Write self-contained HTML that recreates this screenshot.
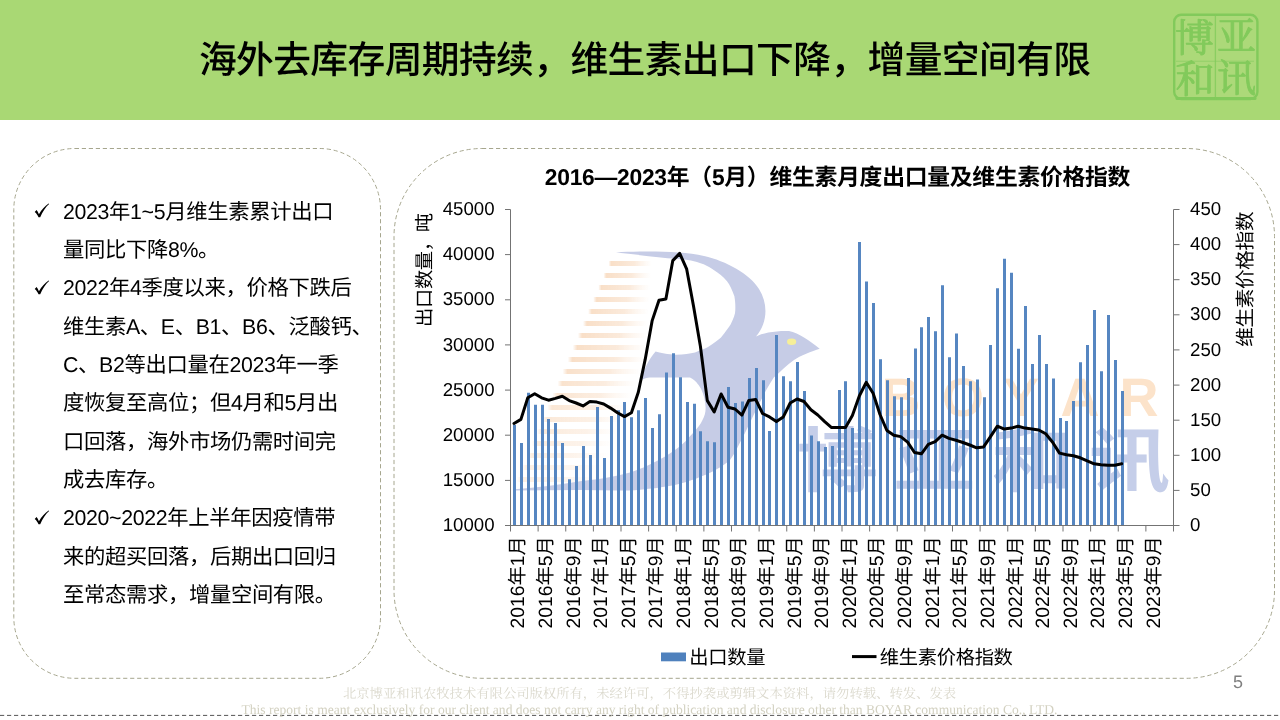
<!DOCTYPE html>
<html lang="zh-CN"><head><meta charset="utf-8"><title>海外去库存周期持续，维生素出口下降，增量空间有限</title><style>
html,body{margin:0;padding:0}
body{width:1280px;height:720px;position:relative;overflow:hidden;background:#fff;font-family:"Liberation Sans","Noto Sans CJK SC",sans-serif;color:#000;text-rendering:geometricPrecision}
.hdr{position:absolute;left:0;top:0;width:1280px;height:120px;background:#a9d874}
.ln{position:absolute;white-space:nowrap;line-height:1;margin:0}
.ttl{left:4.7px;width:1280px;text-align:center;font-size:37.75px;top:41.5px;font-weight:500;letter-spacing:-.016em}
.bl{font-size:21.33px;left:63.0px;letter-spacing:-.016em}
.slide{position:absolute;left:0;top:0;width:1280px;height:720px;will-change:transform}
.ov{position:absolute;left:0;top:0}
.ft{position:absolute;left:9.5px;width:1280px;text-align:center;white-space:nowrap;line-height:1;color:#dbd9cd;font-size:13.33px}
.ft.cn{font-family:"Liberation Serif","Noto Serif CJK SC",serif}
.ft.en{font-family:"Liberation Serif",serif;font-size:13.55px;color:#d3d1c1}
.pg{position:absolute;left:1233px;top:673px;font-size:18px;line-height:1;color:#7f7f7f}
text{font-family:"Liberation Sans","Noto Sans CJK SC",sans-serif;text-rendering:geometricPrecision}
</style></head><body>
<main class="slide">
<div class="hdr"></div>
<h1 class="ln ttl" aria-label="海外去库存周期持续，维生素出口下降，增量空间有限">海外去库存周期持续，维生素出口下降，增量空间有限</h1>
<svg class="ov" width="1280" height="130" viewBox="0 0 1280 130" role="img" aria-label="博亚和讯"><g fill="#82ca5b" stroke="#82ca5b" stroke-linejoin="round"><rect x="1174.2" y="14.8" width="83.2" height="84.2" rx="7" fill="#fff" fill-opacity=".04" stroke-width="2.4"/><path d="M1177 98.4h78" stroke-width="3" stroke-linecap="round"/><path d="M1215.4 14v86" stroke-width="1.3" stroke-opacity=".8"/><path d="M1176 61.2h78" stroke-width="1.1" stroke-opacity=".6"/><text x="1175.0" y="52.0" font-size="39" stroke-width="0.9" style="font-family:'Liberation Serif','Noto Serif CJK SC',serif">博</text><text x="1217.0" y="49.5" font-size="39" stroke-width="0.9" style="font-family:'Liberation Serif','Noto Serif CJK SC',serif">亚</text><text x="1175.5" y="93.0" font-size="39" stroke-width="0.9" style="font-family:'Liberation Serif','Noto Serif CJK SC',serif">和</text><text x="1217.0" y="92.0" font-size="39" stroke-width="0.9" style="font-family:'Liberation Serif','Noto Serif CJK SC',serif">讯</text></g></svg>
<svg class="ov" width="1280" height="720" viewBox="0 0 1280 720" aria-hidden="true" fill="none" stroke="#a6a68e" stroke-width="1" stroke-dasharray="4.2 2.8"><rect x="13.8" y="148.5" width="366.7" height="529.8" rx="61"/><rect x="394" y="148.5" width="880.5" height="529.8" rx="88"/><path d="M0 715.4H1280" stroke="#555" stroke-width="1" stroke-dasharray="4.2 2.8"/></svg>
<p class="ln bl" style="top:201.64px" aria-label="2023年1~5月维生素累计出口"><svg style="position:absolute;left:-29px;top:1.2px" width="16" height="15" viewBox="0 0 16 15"><path d="M.7 8.9 2.6 7.1C3.6 8.3 4.3 9.6 4.9 11.2 7.6 6.6 10.6 3.1 14.6.4l.5.7C11.600 4.300 8.600 8.600 6.200 14.300H4.5C3.700 12.200 2.400 10.200.7 8.900Z" fill="#000"/></svg>2023年1~5月维生素累计出口</p>
<p class="ln bl" style="top:239.98px" aria-label="量同比下降8%。">量同比下降8%。</p>
<p class="ln bl" style="top:278.32px" aria-label="2022年4季度以来，价格下跌后"><svg style="position:absolute;left:-29px;top:1.2px" width="16" height="15" viewBox="0 0 16 15"><path d="M.7 8.9 2.6 7.1C3.6 8.3 4.3 9.6 4.9 11.2 7.6 6.6 10.6 3.1 14.6.4l.5.7C11.600 4.300 8.600 8.600 6.200 14.300H4.5C3.700 12.200 2.400 10.200.7 8.900Z" fill="#000"/></svg>2022年4季度以来，价格下跌后</p>
<p class="ln bl" style="top:316.66px" aria-label="维生素A、E、B1、B6、泛酸钙、">维生素A、E、B1、B6、泛酸钙、</p>
<p class="ln bl" style="top:355.00px" aria-label="C、B2等出口量在2023年一季">C、B2等出口量在2023年一季</p>
<p class="ln bl" style="top:393.34px" aria-label="度恢复至高位；但4月和5月出">度恢复至高位；但4月和5月出</p>
<p class="ln bl" style="top:431.68px" aria-label="口回落，海外市场仍需时间完">口回落，海外市场仍需时间完</p>
<p class="ln bl" style="top:470.02px" aria-label="成去库存。">成去库存。</p>
<p class="ln bl" style="top:508.36px" aria-label="2020~2022年上半年因疫情带"><svg style="position:absolute;left:-29px;top:1.2px" width="16" height="15" viewBox="0 0 16 15"><path d="M.7 8.9 2.6 7.1C3.6 8.3 4.3 9.6 4.9 11.2 7.6 6.6 10.6 3.1 14.6.4l.5.7C11.600 4.300 8.600 8.600 6.200 14.300H4.5C3.700 12.200 2.400 10.200.7 8.900Z" fill="#000"/></svg>2020~2022年上半年因疫情带</p>
<p class="ln bl" style="top:546.70px" aria-label="来的超买回落，后期出口回归">来的超买回落，后期出口回归</p>
<p class="ln bl" style="top:585.04px" aria-label="至常态需求，增量空间有限。">至常态需求，增量空间有限。</p>
<div class="ft cn" style="top:686.8px" aria-label="北京博亚和讯农牧技术有限公司版权所有，未经许可，不得抄袭或剪辑文本资料，请勿转载、转发、发表">北京博亚和讯农牧技术有限公司版权所有，未经许可，不得抄袭或剪辑文本资料，请勿转载、转发、发表</div>
<div class="ft en" style="top:703px">This report is meant exclusively for our client and does not carry any right of publication and disclosure other than BOYAR communication Co., LTD.</div>
<div class="pg">5</div>
<svg class="ov" width="1280" height="720" viewBox="0 0 1280 720" role="img" aria-label="2016—2023年（5月）维生素月度出口量及维生素价格指数"><g><defs><linearGradient id="og" x1="0" x2="1" y1="0" y2="0"><stop offset="0" stop-color="#f7d6b8" stop-opacity="0"/><stop offset=".06" stop-color="#f7d6b8" stop-opacity=".78"/><stop offset=".6" stop-color="#f8dcc3" stop-opacity=".6"/><stop offset="1" stop-color="#fbe9d8" stop-opacity="0"/></linearGradient></defs><filter id="sb" x="-5%" y="-50%" width="110%" height="200%"><feGaussianBlur stdDeviation=".6"/></filter><g filter="url(#sb)"><rect x="608.5" y="261.0" width="43.5" height="5" fill="url(#og)" opacity="1.00"/><rect x="603.4" y="273.0" width="47.7" height="5" fill="url(#og)" opacity="1.00"/><rect x="598.3" y="285.0" width="52.0" height="5" fill="url(#og)" opacity="1.00"/><rect x="593.2" y="297.0" width="56.3" height="5" fill="url(#og)" opacity="1.00"/><rect x="588.1" y="309.0" width="60.6" height="5" fill="url(#og)" opacity="1.00"/><rect x="583.0" y="321.0" width="64.9" height="5" fill="url(#og)" opacity="1.00"/><rect x="577.9" y="333.0" width="69.2" height="5" fill="url(#og)" opacity="1.00"/><rect x="572.8" y="345.0" width="73.5" height="5" fill="url(#og)" opacity="1.00"/><rect x="567.7" y="357.0" width="77.8" height="5" fill="url(#og)" opacity="1.00"/><rect x="562.6" y="369.0" width="78.3" height="5" fill="url(#og)" opacity="0.94"/><rect x="557.5" y="381.0" width="78.9" height="5" fill="url(#og)" opacity="0.88"/><rect x="552.4" y="393.0" width="79.4" height="5" fill="url(#og)" opacity="0.82"/><rect x="547.3" y="405.0" width="80.0" height="5" fill="url(#og)" opacity="0.76"/><rect x="542.2" y="417.0" width="80.5" height="5" fill="url(#og)" opacity="0.70"/><rect x="537.1" y="429.0" width="81.1" height="5" fill="url(#og)" opacity="0.64"/><rect x="532.0" y="441.0" width="81.6" height="5" fill="url(#og)" opacity="0.58"/><rect x="526.9" y="453.0" width="82.2" height="5" fill="url(#og)" opacity="0.52"/><rect x="521.8" y="465.0" width="82.7" height="5" fill="url(#og)" opacity="0.46"/><rect x="516.7" y="477.0" width="83.3" height="5" fill="url(#og)" opacity="0.45"/></g><path fill="#c6cce6" d="M616 252.500C640 251 680 250.500 704 256C726 261 750 274 759 289C768.500 304 767.500 323 756 336.500C762 333 776 330.500 789 331C799 333 810 341 819.700 348.750C812 351 800 356 794 360C787 365 780 372 773.750 377.500C769 385 766 390 763.750 395C759 404 755 412 751.250 420C747 429 743 437 738.750 445C736 451 733 456 730 460C726 463.500 722 466.500 717.500 468.750C713 471.500 709 473.500 705 475C699 477.500 693 480 686.250 481.900C680 483.800 674 485.200 667.500 486.250C659 487.800 651 488.800 642.500 489.400C634 490.300 626 490.600 617.500 490.600L580 490L515 490.400V489.200C537 487.700 559 485 580 481.250C588 480.300 597 479.200 605 478C614 476.300 622 474.600 630 472.500C636.500 470.300 643 467.800 648.750 465C655 462 661.500 458.700 667.500 455C672 452.200 676.200 449.400 680 446.250C683.700 443.100 687 439.800 690 436.250C693.300 433 696.200 429.700 698.750 426.250C700.300 424.300 701.500 422.200 702.500 420C704.600 416 705.800 412 705.600 407.500C705.400 401 703.800 394.500 701 388.750C698.500 384 694.800 380 690 377.500L650 377.500C647 377.600 644 378.500 641.500 380C643 371 649 359 655.600 351.600C660 353 668 354.500 676 354.750C684 354.500 690 353.500 695 352.500C701 350 705 348.500 708 347C714 343 718 340 721 337.500C726 331 729 327 730.600 324.400C734 318 735.500 313 735.300 309.400C735.500 304 735 300 734.400 296.250C732 290 730 285 727 281.250C723 276 718 273 713.750 270C707 265 700 263 695 261.600C690 260 683 259.500 676 258.750C660 257.500 640 255 616 252.500Z"/><ellipse cx="791.6" cy="341.7" rx="4.6" ry="3.2" fill="#f6ef98"/><g font-size="54" font-weight="bold" text-anchor="middle" fill="#fce3ca"><text x="901" y="416">B</text><text x="963" y="416">O</text><text x="1021" y="416">Y</text><text x="1080" y="416">A</text><text x="1139" y="416">R</text></g><g fill="#c5cee9" font-size="70.5" font-weight="bold"><text transform="translate(797,486) scale(1.149,1)">博</text><text transform="translate(894,486) scale(1.149,1)">亚</text><text transform="translate(992,486) scale(1.149,1)">和</text><text transform="translate(1089,486) scale(1.149,1)">讯</text></g></g><path d="M514.5 525.5V424.9M521.5 525.5V443.1M528.5 525.5V392.8M535.5 525.5V404.7M542.5 525.5V404.7M548.5 525.5V419.1M555.5 525.5V423.1M562.5 525.5V443.1M569.5 525.5V479.3M576.5 525.5V466.0M583.5 525.5V446.0M590.5 525.5V455.1M597.5 525.5V407.1M604.5 525.5V458.1M611.5 525.5V416.1M618.5 525.5V410.3M624.5 525.5V401.9M631.5 525.5V417.2M638.5 525.5V410.3M645.5 525.5V398.0M652.5 525.5V428.1M659.5 525.5V414.3M666.5 525.5V372.5M673.5 525.5V353.2M680.5 525.5V377.2M687.5 525.5V401.9M694.5 525.5V403.8M700.5 525.5V431.3M707.5 525.5V441.3M714.5 525.5V442.2M721.5 525.5V398.2M728.5 525.5V386.9M735.5 525.5V402.9M742.5 525.5V401.4M749.5 525.5V378.1M756.5 525.5V368.1M763.5 525.5V380.3M769.5 525.5V430.9M776.5 525.5V334.9M783.5 525.5V376.2M790.5 525.5V381.3M797.5 525.5V362.1M804.5 525.5V391.0M811.5 525.5V435.6M818.5 525.5V441.3M825.5 525.5V446.9M832.5 525.5V446.0M839.5 525.5V390.1M845.5 525.5V381.3M852.5 525.5V428.1M859.5 525.5V241.9M866.5 525.5V281.4M873.5 525.5V303.1M880.5 525.5V359.3M887.5 525.5V380.3M894.5 525.5V396.3M901.5 525.5V397.2M908.5 525.5V378.1M915.5 525.5V348.4M921.5 525.5V327.3M928.5 525.5V317.1M935.5 525.5V331.2M942.5 525.5V285.2M949.5 525.5V357.3M956.5 525.5V333.4M963.5 525.5V366.1M970.5 525.5V381.3M977.5 525.5V379.4M984.5 525.5V397.2M990.5 525.5V345.0M997.5 525.5V288.2M1004.5 525.5V258.8M1011.5 525.5V272.8M1018.5 525.5V348.7M1025.5 525.5V306.0M1032.5 525.5V364.1M1039.5 525.5V335.1M1046.5 525.5V364.1M1053.5 525.5V378.4M1060.5 525.5V418.1M1066.5 525.5V421.1M1073.5 525.5V401.0M1080.5 525.5V362.2M1087.5 525.5V345.0M1094.5 525.5V309.9M1101.5 525.5V371.2M1108.5 525.5V315.0M1115.5 525.5V360.0M1122.5 525.5V391.0" stroke="#5686c1" stroke-width="3" fill="none"/><polyline points="514.0,423.5 520.9,419.4 527.8,397.8 534.7,393.7 541.6,397.8 548.5,400.2 555.4,398.4 562.3,396.3 569.2,400.6 576.1,403.0 583.0,405.9 589.9,401.6 596.8,402.1 603.7,404.0 610.6,408.1 617.5,412.8 624.5,416.6 631.4,412.8 638.3,392.2 645.2,359.4 652.1,320.9 659.0,300.2 665.9,299.0 672.8,260.6 679.7,253.4 686.6,268.8 693.5,305.9 700.4,346.2 707.3,400.6 714.2,411.9 721.1,394.0 728.0,407.2 735.0,409.0 741.9,415.1 748.8,400.5 755.7,399.5 762.6,413.5 769.5,416.9 776.4,421.6 783.3,416.9 790.2,403.0 797.1,399.0 804.0,401.5 810.9,409.8 817.8,415.0 824.7,421.6 831.6,427.6 838.5,427.6 845.5,427.6 852.4,415.5 859.3,396.0 866.2,382.3 873.1,393.2 880.0,414.5 886.9,430.5 893.8,435.2 900.7,436.6 907.6,442.2 914.5,452.5 921.4,453.8 928.3,444.4 935.2,441.6 942.1,435.2 949.0,438.4 956.0,440.3 962.9,442.5 969.8,445.0 976.7,447.8 983.6,446.9 990.5,436.6 997.4,426.2 1004.3,429.1 1011.2,428.1 1018.1,426.2 1025.0,428.1 1031.9,429.1 1038.8,430.0 1045.7,433.8 1052.6,442.2 1059.5,453.1 1066.5,454.8 1073.4,455.7 1080.3,457.8 1087.2,460.9 1094.1,463.8 1101.0,464.7 1107.9,465.2 1114.8,465.2 1121.7,463.8" fill="none" stroke="#000" stroke-width="3" stroke-linejoin="round" stroke-linecap="round"/><path d="M510.5 209.5V531.5M1173.5 209.5V531.5M505.0 525.5H1179.5M505.0 209.5H510.5M505.0 254.6H510.5M505.0 299.8H510.5M505.0 344.9H510.5M505.0 390.1H510.5M505.0 435.2H510.5M505.0 480.4H510.5M1173.5 209.5H1179.5M1173.5 244.6H1179.5M1173.5 279.7H1179.5M1173.5 314.8H1179.5M1173.5 349.9H1179.5M1173.5 385.1H1179.5M1173.5 420.2H1179.5M1173.5 455.3H1179.5M1173.5 490.4H1179.5M538.12 525.5V531.5M565.75 525.5V531.5M593.38 525.5V531.5M621.00 525.5V531.5M648.62 525.5V531.5M676.25 525.5V531.5M703.88 525.5V531.5M731.50 525.5V531.5M759.12 525.5V531.5M786.75 525.5V531.5M814.38 525.5V531.5M842.00 525.5V531.5M869.62 525.5V531.5M897.25 525.5V531.5M924.88 525.5V531.5M952.50 525.5V531.5M980.12 525.5V531.5M1007.75 525.5V531.5M1035.38 525.5V531.5M1063.00 525.5V531.5M1090.62 525.5V531.5M1118.25 525.5V531.5M1145.88 525.5V531.5" stroke="#737373" stroke-width="1" fill="none"/><g font-size="18.67" fill="#000"><g text-anchor="end"><text x="494.6" y="215.1">45000</text><text x="494.6" y="260.2">40000</text><text x="494.6" y="305.4">35000</text><text x="494.6" y="350.5">30000</text><text x="494.6" y="395.7">25000</text><text x="494.6" y="440.8">20000</text><text x="494.6" y="486.0">15000</text><text x="494.6" y="531.1">10000</text></g><text x="1190" y="215.1">450</text><text x="1190" y="250.2">400</text><text x="1190" y="285.3">350</text><text x="1190" y="320.4">300</text><text x="1190" y="355.5">250</text><text x="1190" y="390.7">200</text><text x="1190" y="425.8">150</text><text x="1190" y="460.9">100</text><text x="1190" y="496.0">50</text><text x="1190" y="531.1">0</text></g><g font-size="19.30" fill="#000" text-anchor="end"><text transform="translate(524.25,536.20) rotate(-90)" x="0" y="0">2016年1月</text><text transform="translate(551.88,536.20) rotate(-90)" x="0" y="0">2016年5月</text><text transform="translate(579.50,536.20) rotate(-90)" x="0" y="0">2016年9月</text><text transform="translate(607.13,536.20) rotate(-90)" x="0" y="0">2017年1月</text><text transform="translate(634.75,536.20) rotate(-90)" x="0" y="0">2017年5月</text><text transform="translate(662.38,536.20) rotate(-90)" x="0" y="0">2017年9月</text><text transform="translate(690.00,536.20) rotate(-90)" x="0" y="0">2018年1月</text><text transform="translate(717.63,536.20) rotate(-90)" x="0" y="0">2018年5月</text><text transform="translate(745.25,536.20) rotate(-90)" x="0" y="0">2018年9月</text><text transform="translate(772.88,536.20) rotate(-90)" x="0" y="0">2019年1月</text><text transform="translate(800.50,536.20) rotate(-90)" x="0" y="0">2019年5月</text><text transform="translate(828.13,536.20) rotate(-90)" x="0" y="0">2019年9月</text><text transform="translate(855.75,536.20) rotate(-90)" x="0" y="0">2020年1月</text><text transform="translate(883.38,536.20) rotate(-90)" x="0" y="0">2020年5月</text><text transform="translate(911.00,536.20) rotate(-90)" x="0" y="0">2020年9月</text><text transform="translate(938.63,536.20) rotate(-90)" x="0" y="0">2021年1月</text><text transform="translate(966.25,536.20) rotate(-90)" x="0" y="0">2021年5月</text><text transform="translate(993.88,536.20) rotate(-90)" x="0" y="0">2021年9月</text><text transform="translate(1021.50,536.20) rotate(-90)" x="0" y="0">2022年1月</text><text transform="translate(1049.13,536.20) rotate(-90)" x="0" y="0">2022年5月</text><text transform="translate(1076.75,536.20) rotate(-90)" x="0" y="0">2022年9月</text><text transform="translate(1104.38,536.20) rotate(-90)" x="0" y="0">2023年1月</text><text transform="translate(1132.00,536.20) rotate(-90)" x="0" y="0">2023年5月</text><text transform="translate(1159.63,536.20) rotate(-90)" x="0" y="0">2023年9月</text></g><text transform="translate(430.80,327.00) rotate(-90)" x="0" y="0" font-size="19.25" fill="#000" letter-spacing="-0.31">出口数量，吨</text><text transform="translate(1252.00,346.80) rotate(-90)" x="0" y="0" font-size="19.60" fill="#000" letter-spacing="-0.31">维生素价格指数</text><text transform="translate(837.50,185.40)" x="0" y="0" font-size="22.80" font-weight="bold" fill="#000" text-anchor="middle" letter-spacing="-0.25">2016—2023年（5月）维生素月度出口量及维生素价格指数</text><rect x="661" y="652.5" width="25" height="8.8" fill="#4f81bd"/><text x="689.30" y="663.90" font-size="19.30" fill="#000" letter-spacing="-0.31">出口数量</text><path d="M852 656.6H876.5" stroke="#000" stroke-width="3"/><text x="879.80" y="663.90" font-size="19.30" fill="#000" letter-spacing="-0.31">维生素价格指数</text></svg>
</main>
</body></html>
